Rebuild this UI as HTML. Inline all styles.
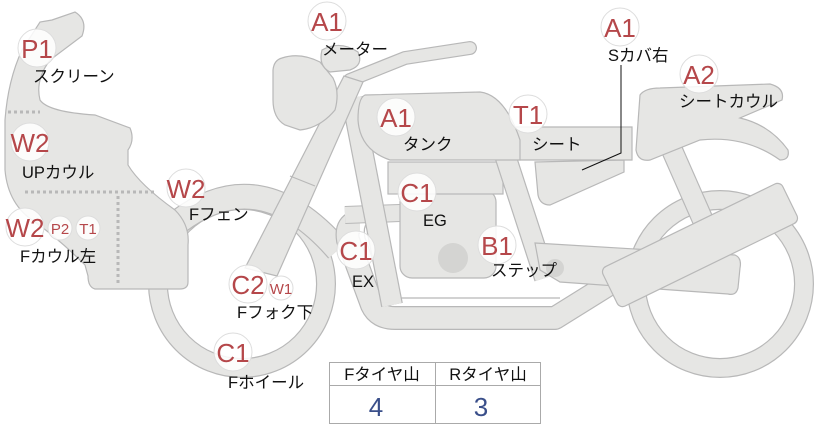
<!DOCTYPE html>
<html><head><meta charset="utf-8"><style>
body{margin:0;background:#fff;width:822px;height:425px;overflow:hidden;font-family:"Liberation Sans","Noto Sans CJK JP",sans-serif}
svg{display:block}
.b{fill:#fff;fill-opacity:.85;stroke:#ddd;stroke-width:1}
.t{fill:#b5474a;font-family:"Liberation Sans",sans-serif;text-anchor:middle}
.l{fill:#111;font-size:16.5px;font-family:"Liberation Sans","Noto Sans CJK JP",sans-serif}
.s{fill:#e6e6e4;stroke:#b8b8b8;stroke-width:1.2}
</style></head><body>
<svg width="822" height="425" viewBox="0 0 822 425">
<circle cx="242" cy="284" r="84" fill="none" stroke="#b8b8b8" stroke-width="20"/>
<circle cx="242" cy="284" r="84" fill="none" stroke="#e6e6e4" stroke-width="17.6"/>
<circle cx="720" cy="284" r="84" fill="none" stroke="#b8b8b8" stroke-width="20"/>
<circle cx="720" cy="284" r="84" fill="none" stroke="#e6e6e4" stroke-width="17.6"/>
<path d="M178,222 Q260,160 338,250" fill="none" stroke="#b8b8b8" stroke-width="26"/>
<path d="M178,222 Q260,160 338,250" fill="none" stroke="#e6e6e4" stroke-width="23.6"/>
<path d="M360,222 Q345,222 348,240 L372,305 Q378,318 395,318 L555,318 L608,285" fill="none" stroke="#b8b8b8" stroke-width="24" stroke-linejoin="round"/>
<path d="M360,222 Q345,222 348,240 L372,305 Q378,318 395,318 L555,318 L608,285" fill="none" stroke="#e6e6e4" stroke-width="21.6" stroke-linejoin="round"/>
<path d="M372,222 Q362,222 365,238 L382,285 Q388,298 402,298 L560,298" fill="none" stroke="#b8b8b8" stroke-width="1.2"/>
<path d="M345,215 L400,213" stroke="#b8b8b8" stroke-width="18"/>
<path d="M345,215 L400,213" stroke="#e6e6e4" stroke-width="16"/>
<path d="M352,98 L392,305" stroke="#b8b8b8" stroke-width="22"/>
<path d="M352,98 L392,305" stroke="#e6e6e4" stroke-width="19.6"/>
<rect x="400" y="190" width="96" height="88" rx="12" class="s"/>
<rect x="388" y="162" width="115" height="32" class="s"/>
<circle cx="453" cy="258" r="15" fill="#d4d4d2"/>
<path d="M505,155 L545,278" stroke="#b8b8b8" stroke-width="22"/>
<path d="M505,155 L545,278" stroke="#e6e6e4" stroke-width="19.6"/>
<path d="M672,150 L705,225" stroke="#b8b8b8" stroke-width="22"/>
<path d="M672,150 L705,225" stroke="#e6e6e4" stroke-width="19.6"/>
<path class="s" d="M535,243 L735,255 Q742,258 740,268 L738,288 Q736,296 728,294 L560,282 L540,270 Z"/>
<circle cx="555" cy="268" r="9" fill="#d4d4d2"/>
<path class="s" d="M535,162 L624,160 L624,172 L550,205 Q540,205 538,195 Z"/>
<path class="s" d="M515,127 L632,127 L632,160 L520,160 Q512,145 515,127Z"/>
<path class="s" d="M640,95 Q645,88 660,88 L770,84 Q785,88 782,100 L740,118 Q770,125 788,150 Q790,160 780,160 Q745,135 700,140 L650,160 Q638,162 636,150 Z"/>
<g transform="translate(700,245) rotate(-26)"><rect x="-100" y="-22" width="200" height="44" rx="6" class="s"/></g>
<path class="s" d="M365,95 L480,92 Q505,95 520,140 L520,160 L390,160 Q360,150 358,120 Q358,98 365,95Z"/>
<path d="M350,80 L405,58 L470,48" fill="none" stroke="#b8b8b8" stroke-width="14" stroke-linecap="round" stroke-linejoin="round"/>
<path d="M350,80 L405,58 L470,48" fill="none" stroke="#e6e6e4" stroke-width="11.6" stroke-linecap="round" stroke-linejoin="round"/>
<path class="s" d="M344,76 L363,82 L277,276 L245,268 Z"/>
<path d="M290,176 L315,186" stroke="#b8b8b8" stroke-width="1.2"/>
<path class="s" d="M282,58 Q300,52 320,62 L333,78 Q340,92 335,110 Q320,128 300,130 L285,125 Q273,118 273,100 L273,70 Q274,60 282,58Z"/>
<path class="s" d="M322,50 Q340,40 358,52 Q364,65 350,70 L330,72 Q318,66 322,50Z"/>
<path class="s" d="M52,20 L75,12 Q88,20 82,36 L50,60 Q35,80 40,100 Q48,112 95,115 L130,128 Q135,140 128,150 L128,165 Q140,185 175,210 Q190,225 188,245 L188,282 Q188,289 180,289 L95,289 Q88,287 88,276 L85,265 Q60,240 35,222 Q8,205 5,170 L5,120 Q8,80 22,50 L40,22 Z"/>
<path d="M8,112 L40,112 M25,192 L155,192 M118,196 L118,285" stroke="#b8b8b8" stroke-width="3" stroke-dasharray="3,3"/>
<path d="M621,65 L621,153 L582,170" fill="none" stroke="#111" stroke-width="1"/>
<g font-size="26">
<circle class="b" cx="37" cy="48" r="19"/><text class="t" x="37" y="58">P1</text>
<circle class="b" cx="327" cy="21" r="19"/><text class="t" x="327" y="31">A1</text>
<circle class="b" cx="396" cy="117" r="19"/><text class="t" x="396" y="127">A1</text>
<circle class="b" cx="620" cy="27" r="19"/><text class="t" x="620" y="37">A1</text>
<circle class="b" cx="699" cy="74" r="19"/><text class="t" x="699" y="84">A2</text>
<circle class="b" cx="528" cy="114" r="19"/><text class="t" x="528" y="124">T1</text>
<circle class="b" cx="30" cy="142" r="19"/><text class="t" x="30" y="152">W2</text>
<circle class="b" cx="186" cy="188" r="19"/><text class="t" x="186" y="198">W2</text>
<circle class="b" cx="25" cy="227" r="19"/><text class="t" x="25" y="237">W2</text>
<circle class="b" cx="417" cy="192" r="19"/><text class="t" x="417" y="202">C1</text>
<circle class="b" cx="248" cy="284" r="19"/><text class="t" x="248" y="294">C2</text>
<circle class="b" cx="356" cy="250" r="19"/><text class="t" x="356" y="260">C1</text>
<circle class="b" cx="497" cy="245" r="19"/><text class="t" x="497" y="255">B1</text>
<circle class="b" cx="233" cy="352" r="19"/><text class="t" x="233" y="362">C1</text>
</g>
<g font-size="15">
<circle class="b" cx="60" cy="228" r="12"/><text class="t" x="60" y="234">P2</text>
<circle class="b" cx="88" cy="228" r="12"/><text class="t" x="88" y="234">T1</text>
<circle class="b" cx="281" cy="288" r="12"/><text class="t" x="281" y="294">W1</text>
</g>
<text class="l" x="33" y="82">スクリーン</text>
<text class="l" x="322" y="55">メーター</text>
<text class="l" x="403" y="150">タンク</text>
<text class="l" x="608" y="61">Sカバ右</text>
<text class="l" x="679" y="107">シートカウル</text>
<text class="l" x="532" y="150">シート</text>
<text class="l" x="22" y="178">UPカウル</text>
<text class="l" x="189" y="220">Fフェン</text>
<text class="l" x="20" y="262">Fカウル左</text>
<text class="l" x="423" y="226">EG</text>
<text class="l" x="352" y="287">EX</text>
<text class="l" x="491" y="276">ステップ</text>
<text class="l" x="237" y="318">Fフォク下</text>
<text class="l" x="228" y="388">Fホイール</text>
<rect x="329.5" y="362.5" width="211" height="61" fill="#fff" stroke="#aaa"/>
<path d="M329.5,385.5 H540.5 M435.5,362.5 V423.5" stroke="#aaa"/>
<text class="l" x="382" y="380" text-anchor="middle">Fタイヤ山</text>
<text class="l" x="488" y="380" text-anchor="middle">Rタイヤ山</text>
<text x="376" y="416" font-size="26" fill="#3a4f8a" text-anchor="middle">4</text>
<text x="481" y="416" font-size="26" fill="#3a4f8a" text-anchor="middle">3</text>
</svg>
</body></html>
